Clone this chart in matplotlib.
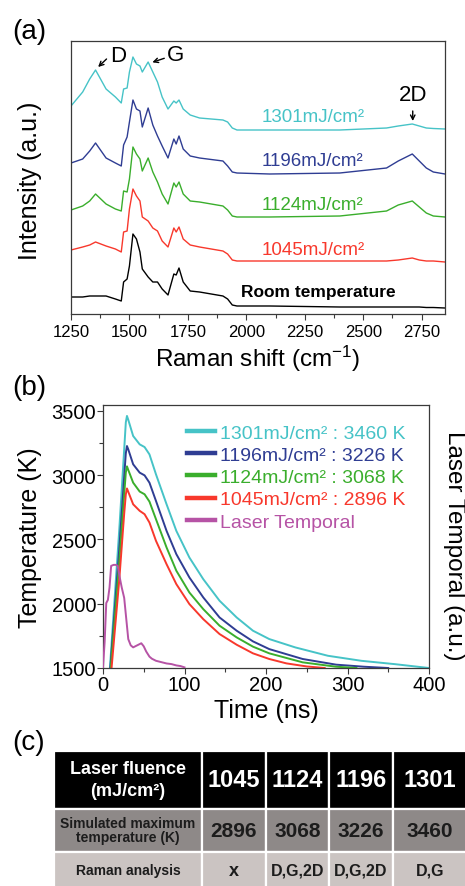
import numpy as np
import matplotlib
matplotlib.use('Agg')
from matplotlib import pyplot as plt
from matplotlib.ticker import MultipleLocator

plt.rcParams['font.family'] = ['Liberation Sans', 'DejaVu Sans']
plt.rcParams['mathtext.default'] = 'regular'

# ---- (a) Raman spectra, stacked intensities (a.u.)
shift = [1250, 1300, 1330, 1355, 1400, 1440, 1465, 1475, 1490, 1500, 1515, 1530,
         1545, 1555, 1580, 1600, 1620, 1640, 1665, 1690, 1700, 1712, 1730, 1760,
         1800, 1900, 1920, 1940, 1960, 2100, 2400, 2600, 2650, 2710, 2740, 2770,
         2800, 2850]
spec_1301 = [208, 222, 235, 244, 225, 217, 211, 225, 226, 242, 257, 250, 248, 242,
             252, 242, 232, 217, 205, 213, 211, 214, 205, 199, 196, 194, 192, 186,
             184, 184, 184, 186, 188, 190, 188, 186, 185.5, 185]
spec_1196 = [151, 155, 163, 171, 156, 151, 148, 169, 177, 192, 214, 205, 203, 187,
             206, 189, 178, 168, 156, 175, 170, 178, 165, 158, 156, 153, 148, 142,
             141, 140, 141, 146, 153, 160, 153, 146, 142, 140]
spec_1124 = [104, 108, 113, 120, 110, 105, 103, 123, 122, 135, 167, 160, 155, 143,
             156, 142, 132, 120, 110, 131, 127, 132, 120, 113, 112, 108, 104, 98,
             97, 97, 98, 103, 109, 113, 107, 101, 98, 97]
spec_1045 = [64, 67, 69, 72, 68, 65, 62, 82, 83, 105, 125, 118, 113, 97, 93, 86, 83,
             73, 67, 86, 82, 87, 75, 69, 67, 63, 60, 54, 53, 53, 53, 53, 54, 56, 54,
             53, 53, 52]
spec_room = [17, 17, 18, 18, 18, 15, 13, 32, 35, 48, 80, 75, 62, 45, 37, 32, 32, 25,
             19, 40, 39, 46, 32, 23, 22, 18, 15, 9, 8, 8, 7, 7, 7, 7, 7, 6.5, 6.5, 6]

# ---- (b) simulated temperature (K) vs time (ns)
t_1301 = [8.5, 20, 26, 28, 29.4, 31, 37, 45, 51, 57, 65, 78, 90, 106, 123, 143,
          164, 184, 204, 236, 276, 317, 358, 400]
T_1301 = [1500, 2580, 3200, 3410, 3460, 3430, 3304, 3239, 3218, 3161, 3006, 2773,
          2566, 2359, 2191, 2023, 1893, 1790, 1725, 1660, 1595, 1556, 1530, 1500]
t_1196 = [9, 20, 26, 28, 29.4, 31, 37, 45, 51, 57, 65, 78, 90, 106, 123, 143, 164,
          184, 204, 245, 286, 320, 350]
T_1196 = [1500, 2430, 2990, 3170, 3226, 3200, 3084, 3019, 2998, 2941, 2799, 2566,
          2385, 2204, 2049, 1893, 1790, 1707, 1647, 1570, 1526, 1510, 1500]
t_1124 = [9.5, 20, 26, 28, 29.4, 31, 37, 45, 51, 57, 65, 78, 90, 106, 123, 143, 164,
          184, 204, 245, 286, 311]
T_1124 = [1500, 2330, 2850, 3020, 3068, 3040, 2941, 2872, 2851, 2794, 2657, 2437,
          2256, 2087, 1958, 1829, 1738, 1666, 1614, 1544, 1510, 1500]
t_1045 = [10.5, 20, 26, 28, 29.4, 31, 37, 45, 51, 57, 65, 78, 90, 106, 123, 143,
          164, 184, 204, 225, 250, 272]
T_1045 = [1500, 2190, 2700, 2850, 2896, 2870, 2773, 2722, 2696, 2631, 2489, 2307,
          2152, 1997, 1880, 1764, 1681, 1614, 1570, 1536, 1512, 1500]
t_laser = [0, 2, 4, 6, 8, 10, 13, 16, 18, 20, 23, 26, 29, 31, 34, 37, 42, 47, 50,
           53, 57, 60, 65, 72, 78, 84, 90, 95, 100]
laser = [0.006, 0.25, 0.63, 0.66, 0.78, 0.99, 1.0, 1.0, 0.99, 0.9, 0.78, 0.68, 0.44,
         0.28, 0.22, 0.2, 0.22, 0.24, 0.21, 0.16, 0.11, 0.09, 0.07, 0.056, 0.044,
         0.038, 0.025, 0.019, 0.006]

fluence = ['1301', '1196', '1124', '1045']
peak_T = ['3460', '3226', '3068', '2896']
colors = ['#46c3c7', '#2f3d93', '#3aae2c', '#f8382c']
laser_color = '#b653a5'

# ---- (c) table
col_head = ['Laser fluence\n(mJ/cm²)', '1045', '1124', '1196', '1301']
row_temp = ['Simulated maximum\ntemperature (K)', '2896', '3068', '3226', '3460']
row_raman = ['Raman analysis', 'x', 'D,G,2D', 'D,G,2D', 'D,G']

W, H = 465, 887
fig = plt.figure(figsize=(W / 100, H / 100), dpi=100)
spine_c = '#3a3a3a'


def frac(l, t, r, b):
    return [l / W, 1 - b / H, (r - l) / W, (b - t) / H]


# ================= (a)
ax = fig.add_axes(frac(71, 42, 445, 315))
specs = [spec_1301, spec_1196, spec_1124, spec_1045]
for s, c in zip(specs, colors):
    ax.plot(shift, s, color=c, lw=1.0)
ax.plot(shift, spec_room, color='black', lw=1.0)
ax.set_xlim(1250, 2850)
ax.set_ylim(0, 273)
ax.xaxis.set_major_locator(MultipleLocator(250))
ax.xaxis.set_minor_locator(MultipleLocator(125))
ax.set_yticks([])
ax.tick_params(axis='x', which='major', length=4, width=0.8, color=spine_c,
               labelsize=12, pad=3)
ax.tick_params(axis='x', which='minor', length=3, width=0.8, color=spine_c)
for sp in ax.spines.values():
    sp.set_color(spine_c)
    sp.set_linewidth(0.9)
ax.set_xlabel('Raman shift (cm$^{-1}$)', fontsize=17.5, labelpad=3)
ax.set_ylabel('Intensity (a.u.)', fontsize=18)
ax.yaxis.set_label_coords(-29 / 374, 0.49)

lab_y = [197, 153, 109, 64]
for f, c, yy in zip(fluence, colors, lab_y):
    ax.text(2285, yy, f'{f}mJ/cm²', color=c, fontsize=13.5, ha='center', va='center')
ax.text(2306, 22, 'Room temperature', fontsize=12.5, fontweight='bold',
        ha='center', va='center')

arw = dict(arrowstyle='->', color='black', lw=1.0, shrinkA=0, shrinkB=0,
           mutation_scale=8)
ax.annotate('', xy=(1366, 247), xytext=(1402, 255), arrowprops=arw)
ax.text(1454, 258.5, 'D', fontsize=16, ha='center', va='center')
ax.annotate('', xy=(1598, 251.7), xytext=(1649, 255.7), arrowprops=arw)
ax.text(1697, 259, 'G', fontsize=16, ha='center', va='center')
ax.annotate('', xy=(2712, 193), xytext=(2712, 203), arrowprops=arw)
ax.text(2714, 219.5, '2D', fontsize=16, ha='center', va='center')

# ================= (b)
bx = fig.add_axes(frac(103, 406, 429, 669))
times = [t_1301, t_1196, t_1124, t_1045]
temps = [T_1301, T_1196, T_1124, T_1045]
handles = []
for tt, TT, c, f, p in zip(times, temps, colors, fluence, peak_T):
    h, = bx.plot(tt, TT, color=c, lw=1.4, label=f'{f}mJ/cm² : {p} K')
    handles.append(h)
bx.set_xlim(0, 400)
bx.set_ylim(1500, 3545)
bx.xaxis.set_major_locator(MultipleLocator(100))
bx.xaxis.set_minor_locator(MultipleLocator(50))
bx.yaxis.set_major_locator(MultipleLocator(500))
bx.yaxis.set_minor_locator(MultipleLocator(250))
bx.tick_params(which='both', direction='out', color=spine_c, width=0.8)
bx.tick_params(which='major', length=4, labelsize=14.5, pad=1)
bx.tick_params(which='minor', length=3)
bx.tick_params(axis='y', which='both', right=True)
for sp in bx.spines.values():
    sp.set_color(spine_c)
    sp.set_linewidth(0.9)
bx.set_xlabel('Time (ns)', fontsize=18, labelpad=3)
bx.set_ylabel('Temperature (K)', fontsize=18)
bx.yaxis.set_label_coords(-61 / 326, 0.5)

tw = bx.twinx()
h, = tw.plot(t_laser, laser, color=laser_color, lw=1.4, label='Laser Temporal')
handles.append(h)
tw.set_ylim(0, 2.55)
tw.tick_params(right=False, labelright=False)
tw.set_ylabel('Laser Temporal (a.u.)', fontsize=17.5, rotation=270, va='bottom')
tw.yaxis.set_label_coords(1 + 14 / 326, 0.47)
for sp in tw.spines.values():
    sp.set_visible(False)

leg = bx.legend(handles=handles, loc='upper left', bbox_to_anchor=(84 / 326, 1 - 19 / 263),
                frameon=False, fontsize=14, handlelength=1.45, handletextpad=0.25,
                labelspacing=0.24, borderaxespad=0, borderpad=0)
for line, txt in zip(leg.get_lines(), leg.get_texts()):
    line.set_linewidth(3.2)
    txt.set_color(line.get_color())

# ================= (c)
tax = fig.add_axes(frac(54, 752, 467, 890))
tax.axis('off')
cells = [col_head, row_temp, row_raman]
bg = [['black'] * 5, ['#8e8988'] * 5, ['#cbc4c2'] * 5]
tbl = tax.table(cellText=cells, cellColours=bg, cellLoc='center',
                colWidths=[148, 63.5, 63.5, 64, 74], bbox=[0, 0, 1, 1])
tbl.auto_set_font_size(False)
row_h = [57.5, 43.5, 37]
for (r, c), cell in tbl.get_celld().items():
    cell.set_edgecolor('white')
    cell.set_linewidth(1.6)
    cell.set_height(row_h[r])
    txt = cell.get_text()
    txt.set_fontweight('bold')
    if r == 0:
        txt.set_color('white')
        txt.set_fontsize(13 if c == 0 else 17)
        txt.set_linespacing(1.35)
    elif r == 1:
        txt.set_color('#1c1c1c')
        txt.set_fontsize(10 if c == 0 else 15)
        txt.set_linespacing(1.0)
    else:
        txt.set_color('#1c1c1c')
        txt.set_fontsize(10 if c == 0 else (13 if c == 1 else 11.5))

fig.text(12 / W, 1 - 32 / H, '(a)', fontsize=20, va='center', ha='left')
fig.text(12 / W, 1 - 388 / H, '(b)', fontsize=20, va='center', ha='left')
fig.text(12 / W, 1 - 743 / H, '(c)', fontsize=20, va='center', ha='left')

fig.savefig('out.png', dpi=100)
